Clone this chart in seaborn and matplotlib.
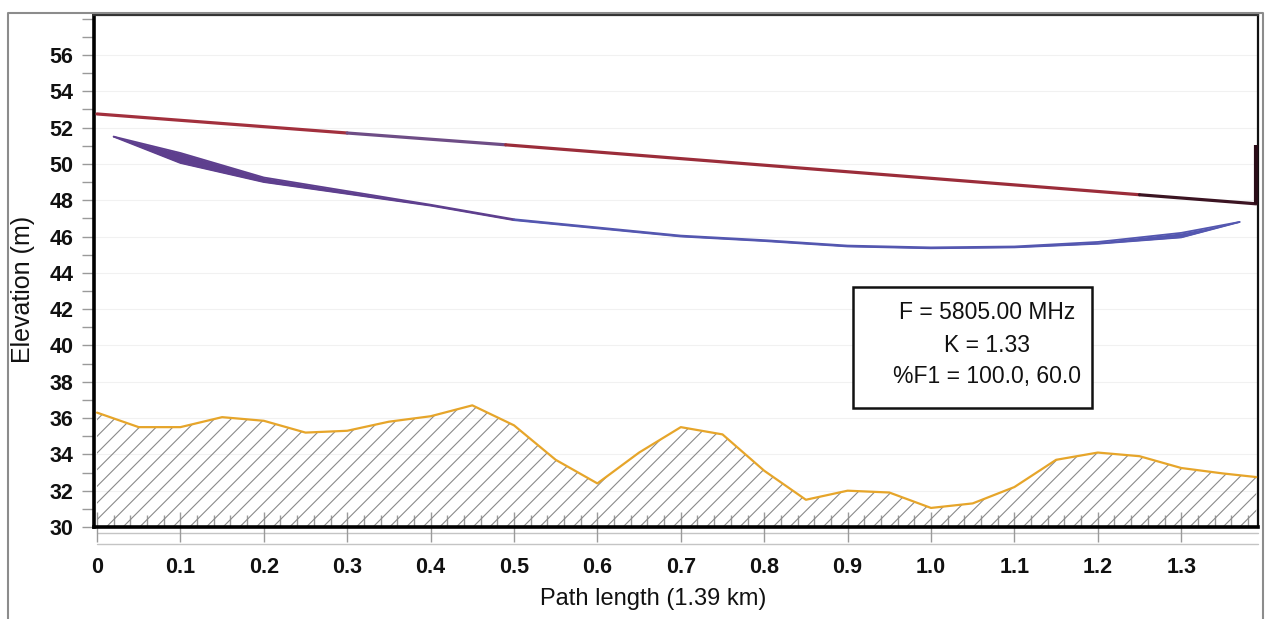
import numpy as np
import pandas as pd
import matplotlib
matplotlib.use("Agg")
import matplotlib.pyplot as plt
import seaborn as sns
from matplotlib.lines import Line2D
from matplotlib.patches import Rectangle

# ---------------- data ----------------
terrain_x = [0.00, 0.05, 0.10, 0.15, 0.20, 0.25, 0.30, 0.35, 0.40, 0.45, 0.50,
             0.55, 0.60, 0.65, 0.70, 0.75, 0.80, 0.85, 0.90, 0.95, 1.00, 1.05,
             1.10, 1.15, 1.20, 1.25, 1.30, 1.35, 1.39]
terrain_y = [36.3, 35.5, 35.5, 36.05, 35.85, 35.2, 35.3, 35.8, 36.1, 36.7, 35.6,
             33.7, 32.4, 34.1, 35.5, 35.1, 33.1, 31.5, 32.0, 31.9, 31.05, 31.3,
             32.2, 33.7, 34.1, 33.9, 33.25, 32.95, 32.75]

# line of sight (read at the points where its colour changes)
los_x = [0.00, 0.30, 0.49, 1.25, 1.39]
los_y = [52.75, 51.7, 51.05, 48.3, 47.8]
los_colors = ["#a2303d", "#6e4d86", "#9b2d3a", "#3b1422"]

# Fresnel zone lower edges (100 % and 60 %)
fres_x = [0.02, 0.10, 0.20, 0.30, 0.40, 0.50, 0.60, 0.70, 0.80, 0.90,
          1.00, 1.10, 1.20, 1.30, 1.37]
fres_upper = [51.5, 50.6, 49.25, 48.5, 47.75, 46.95, 46.5, 46.05, 45.8, 45.5,
              45.4, 45.45, 45.7, 46.2, 46.8]
fres_lower = [51.5, 50.05, 49.0, 48.35, 47.7, 46.9, 46.45, 46.0, 45.75, 45.45,
              45.35, 45.4, 45.6, 45.95, 46.8]

mast_y = [47.8, 51.05]

info_lines = ["F = 5805.00 MHz", "K = 1.33", "%F1 = 100.0, 60.0"]
x_ticks = [0, 0.1, 0.2, 0.3, 0.4, 0.5, 0.6, 0.7, 0.8, 0.9, 1.0, 1.1, 1.2, 1.3]
x_ticklabels = ["0", "0.1", "0.2", "0.3", "0.4", "0.5", "0.6", "0.7", "0.8",
                "0.9", "1.0", "1.1", "1.2", "1.3"]
y_ticks = list(range(30, 57, 2))
x_label = "Path length (1.39 km)"
y_label = "Elevation (m)"

# ---------------- style ----------------
sns.set_theme(style="white")
plt.rcParams["font.family"] = ["Liberation Sans", "DejaVu Sans"]
plt.rcParams["hatch.linewidth"] = 0.8

W, H = 1266, 619
fig = plt.figure(figsize=(W / 100, H / 100), dpi=100)
fig.patch.set_facecolor("white")
ax = fig.add_axes([94 / W, (H - 527) / H, (1258 - 94) / W, (527 - 15) / H])
ax.set_facecolor("white")

# terrain with hatching
ax.fill_between(terrain_x, 30, terrain_y, facecolor="none", edgecolor="#8a8a8a",
                hatch="//", linewidth=0, zorder=1)
tdf = pd.DataFrame({"x": terrain_x, "y": terrain_y})
sns.lineplot(data=tdf, x="x", y="y", ax=ax, color="#e6a52a", linewidth=1.6,
             sort=False, zorder=3)

# Fresnel band
fdf = pd.DataFrame({"x": fres_x, "up": fres_upper, "lo": fres_lower})
left = fdf[fdf.x <= 0.5]
right = fdf[fdf.x >= 0.5]
for part, col in ((left, "#5e3f8e"), (right, "#5457b0")):
    ax.fill_between(part.x, part.lo, part.up, color=col, linewidth=0, zorder=3)
    sns.lineplot(x=part.x.values, y=part.up.values, ax=ax, color=col,
                 linewidth=1.3, sort=False, zorder=4)
    sns.lineplot(x=part.x.values, y=part.lo.values, ax=ax, color=col,
                 linewidth=1.3, sort=False, zorder=4)

# line of sight, segment colours
for i, col in enumerate(los_colors):
    sns.lineplot(x=los_x[i:i + 2], y=los_y[i:i + 2], ax=ax, color=col,
                 linewidth=2.3, sort=False, zorder=5)

# antenna mast at the right end
ax.plot([los_x[-1], los_x[-1]], mast_y, color="#2a0d18", linewidth=3,
        clip_on=False, zorder=6, solid_capstyle="butt")

# info box
box_x0, box_x1 = 853, 1092
box_y0, box_y1 = 287, 408
fig.add_artist(Rectangle((box_x0 / W, 1 - box_y1 / H), (box_x1 - box_x0) / W,
                         (box_y1 - box_y0) / H, transform=fig.transFigure,
                         facecolor="white", edgecolor="#111111", linewidth=1.8,
                         zorder=10))
for yy, txt in zip([312, 345, 377], info_lines):
    fig.text(987 / W, 1 - yy / H, txt, ha="center", va="center",
             fontsize=16.5, color="#111111", zorder=11)

# axes limits and ticks
ax.set_xlim(-0.0036, 1.3921)
ax.set_ylim(30, 58.2)
ax.set_xticks(x_ticks)
ax.set_xticklabels(x_ticklabels)
ax.set_xticks(np.arange(0, 1.39, 0.02), minor=True)
ax.set_yticks(y_ticks)
ax.set_yticks(range(30, 59), minor=True)

ax.tick_params(axis="x", which="major", direction="inout", length=22, width=1,
               color="#9a9a9a", labelsize=15.5, pad=10.5, bottom=True)
ax.tick_params(axis="x", which="minor", direction="in", length=8.5, width=1,
               color="#9a9a9a", bottom=True)
ax.tick_params(axis="y", which="both", direction="out", length=8.5, width=1,
               color="#9a9a9a", labelsize=15.5, pad=6.5, left=True)
for lab in ax.get_xticklabels() + ax.get_yticklabels():
    lab.set_fontweight("bold")
    lab.set_color("#111111")

ax.grid(True, which="major", axis="y", color="#f1f1f1", linewidth=0.8)
ax.set_axisbelow(True)

# ladder lines under the x axis
for yoff in (-(533 - 527) / 512, -(544 - 527) / 512):
    ax.plot([0, 1.3921], [yoff, yoff], transform=ax.get_xaxis_transform(),
            color="#c4c4c4", linewidth=1, clip_on=False, zorder=0)

ax.set_xlabel(x_label, fontsize=17, color="#111111")
ax.set_ylabel(y_label, fontsize=18, color="#111111")
ax.xaxis.set_label_coords((653 - 94) / (1258 - 94), -(588 - 527) / 512)
ax.yaxis.set_label_coords(-(94 - 35) / (1258 - 94), (527 - 289) / 512)

# spines
for side, lw, col in (("left", 2.6, "#000000"), ("bottom", 2.6, "#000000"),
                      ("right", 1.6, "#111111"), ("top", 1.6, "#333333")):
    ax.spines[side].set_visible(True)
    ax.spines[side].set_linewidth(lw)
    ax.spines[side].set_color(col)

# outer figure frame
fx = [8 / W, 8 / W, 1263 / W, 1263 / W]
fy = [0, 1 - 13 / H, 1 - 13 / H, 0]
fig.add_artist(Line2D(fx, fy, transform=fig.transFigure, color="#8c8c8c",
                      linewidth=1.5))

fig.savefig("out.png", dpi=100, facecolor="white")
